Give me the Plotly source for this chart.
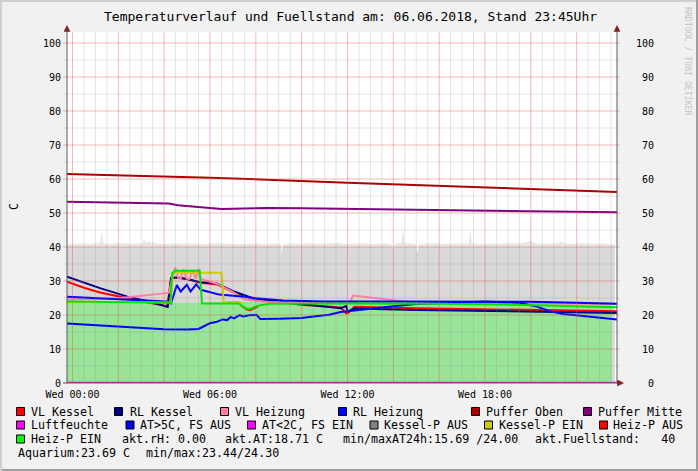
import numpy as np
import pandas as pd
import plotly.graph_objects as go

# ---------------- data ----------------
TITLE = "Temperaturverlauf und Fuellstand am: 06.06.2018, Stand 23:45Uhr"
BASE = pd.Timestamp("2018-06-06 00:00")
X_START = "2018-06-05 23:45:36"
X_END = "2018-06-06 23:45:36"

TICK_H = [0, 6, 12, 18]
TICK_LABELS = ["Wed 00:00", "Wed 06:00", "Wed 12:00", "Wed 18:00"]
Y_TICKS = [0, 10, 20, 30, 40, 50, 60, 70, 80, 90, 100]

# Fuellstand (noisy level, grey area)
FILL_H = [-0.24, 0.1, 0.4, 0.7, 1.0, 1.2, 1.29, 1.36, 1.6, 1.9, 2.2, 2.5, 2.8, 3.05, 3.12, 3.2,
          3.35, 3.42, 3.5, 3.58, 3.7, 4.0, 4.4, 4.8, 5.2, 5.6, 6.0, 6.4, 6.8, 7.2, 7.6, 8.0,
          8.4, 8.8, 9.08, 9.13, 9.18, 9.5, 9.9, 10.3, 10.7, 11.1, 11.5, 11.9, 12.3, 12.7, 13.1,
          13.5, 13.9, 14.02, 14.08, 14.2, 14.36, 14.42, 14.48, 14.7, 15.0, 15.06, 15.12, 15.4,
          15.8, 16.2, 16.6, 17.0, 17.3, 17.36, 17.42, 17.7, 18.1, 18.5, 18.9, 19.3, 19.7, 20.0,
          20.2, 20.5, 20.9, 21.2, 21.3, 21.5, 21.9, 22.3, 22.7, 23.1, 23.5, 23.67]
FILL_V = [41.0, 40.8, 41.1, 40.9, 41.0, 41.2, 44.5, 41.1, 40.9, 41.0, 41.2, 40.9, 41.0, 41.1, 42.7, 41.2,
          41.6, 41.0, 41.7, 41.0, 41.1, 40.8, 41.0, 40.9, 41.1, 40.8, 41.0, 41.1, 40.9, 40.8, 40.9, 41.0,
          40.8, 41.0, 40.7, 38.1, 40.8, 41.0, 40.9, 41.1, 40.9, 41.0, 41.2, 40.9, 41.0, 41.1, 40.8,
          41.0, 40.9, 39.5, 40.9, 41.1, 41.3, 45.5, 41.2, 41.0, 40.8, 38.2, 40.8, 41.0,
          41.1, 40.9, 41.0, 41.2, 41.1, 45.5, 41.2, 40.9, 41.0, 40.8, 41.1, 41.0, 41.2, 41.8,
          41.1, 40.9, 41.0, 41.1, 41.6, 41.0, 40.9, 41.1, 40.9, 41.0, 40.8, 40.9]
FILL_CAP = 40

# Aquarium (light green area)
AQ_H = [-0.24, 2, 4, 6, 8, 10, 12, 14, 16, 18, 20, 22, 23.54]
AQ_V = [23.7, 23.6, 23.5, 23.6, 23.9, 24.1, 24.3, 24.2, 24.1, 24.0, 23.9, 23.8, 23.7]

# Puffer Oben / Mitte
PO_H = [-0.24, 6, 12, 18, 23.76]
PO_V = [61.5, 60.4, 58.9, 57.5, 56.2]
PM_H = [-0.24, 2, 4.2, 4.6, 5.5, 6.5, 7.5, 8.5, 10, 12, 15, 18, 21, 23.76]
PM_V = [53.3, 53.1, 52.8, 52.3, 51.8, 51.2, 51.3, 51.5, 51.4, 51.2, 51.0, 50.7, 50.5, 50.2]

# VL Kessel
VLK_H = [-0.24, 0.5, 1.2, 2.4, 3.4, 4.15, 4.3, 4.5, 5.0, 5.6, 6.3, 7.05, 7.5, 7.9, 8.8, 10.0,
         11.7, 11.95, 12.05, 12.3, 15.0, 18.0, 21.0, 23.76]
VLK_V = [29.8, 28.0, 26.6, 24.8, 23.5, 22.6, 30.8, 31.0, 30.6, 29.5, 29.0, 26.6, 25.5, 24.7, 24.0, 23.0,
         22.2, 20.5, 20.7, 22.4, 22.0, 21.7, 21.4, 21.1]
# RL Kessel
RLK_H = [-0.24, 0.5, 1.2, 2.4, 3.4, 4.15, 4.3, 4.6, 5.0, 5.6, 6.3, 7.05, 7.9, 8.8, 10.0, 11.7,
         11.95, 12.0, 12.3, 15.0, 18.0, 21.0, 23.76]
RLK_V = [31.3, 29.5, 27.9, 25.4, 23.9, 22.4, 30.9, 31.0, 30.6, 29.6, 29.3, 26.9, 24.9, 24.3, 23.2, 22.0,
         22.6, 21.0, 21.9, 21.5, 21.2, 20.9, 20.6]
# VL Heizung
VLH_H = [-0.24, 1.0, 2.0, 3.0, 3.9, 4.2, 4.35, 4.48, 4.62, 4.72, 4.84, 4.98, 5.1, 5.25, 5.38, 5.5,
         5.6, 6.3, 7.05, 7.5, 8.5, 12.1, 12.25, 13.5, 14.6, 16.0, 20.0, 23.76]
VLH_V = [24.6, 24.6, 24.9, 25.6, 26.4, 26.5, 30.5, 34.0, 30.8, 30.6, 33.4, 30.7, 30.6, 33.2, 30.6, 33.5,
         30.6, 29.2, 26.6, 24.6, 23.8, 23.6, 25.7, 24.8, 23.9, 23.7, 23.5, 23.2]
# RL Heizung
RLH_H = [-0.24, 1.0, 2.0, 3.0, 4.1, 4.3, 4.45, 4.55, 4.72, 4.99, 5.15, 5.4, 5.6, 6.0, 6.4, 7.5,
         8.0, 9.2, 11.0, 14.0, 17.0, 20.0, 22.0, 23.76]
RLH_V = [25.4, 25.0, 24.7, 24.4, 24.0, 23.4, 26.5, 28.8, 26.9, 28.9, 26.9, 29.0, 27.4, 26.8, 26.0, 25.4,
         24.9, 24.3, 24.0, 24.0, 24.0, 23.9, 23.6, 23.3]
# Luftfeuchte
RH_H = [-0.24, 23.76]
RH_V = [0.0, 0.0]
# Aussentemperatur (AT>5C, FS AUS)
AT_H = [-0.24, 1.0, 2.0, 3.0, 4.0, 5.0, 5.5, 5.65, 6.0, 6.3, 6.55, 6.75, 6.9, 7.05, 7.3, 7.45,
        7.7, 8.04, 8.2, 9.0, 10.0, 10.6, 11.2, 11.7, 12.5, 13.5, 14.0, 15.0, 16.5, 18.0, 19.5,
        20.3, 20.8, 21.4, 22.3, 23.0, 23.76]
AT_V = [17.5, 17.0, 16.6, 16.2, 15.8, 15.7, 15.9, 16.4, 17.6, 18.0, 18.7, 18.5, 19.4, 19.0, 20.0, 19.6,
        19.9, 20.0, 18.8, 18.9, 19.1, 19.6, 20.1, 20.9, 21.4, 22.2, 22.6, 23.2, 23.6, 24.0, 23.6,
        22.4, 21.2, 20.3, 19.7, 19.3, 18.7]
# Kessel-P EIN
KPE_H = [-0.24, 4.3, 4.36, 6.5, 6.6, 7.2, 7.4]
KPE_V = [23.9, 23.7, 32.4, 32.4, 23.9, 23.8, 23.5]
# Heiz-P AUS
HPA_H = [7.35, 7.6, 7.75, 7.95, 8.1]
HPA_V = [22.8, 21.7, 21.4, 22.0, 22.6]
# Heiz-P EIN
HPE_H = [-0.24, 2.0, 4.28, 4.34, 4.45, 5.55, 5.65, 7.25, 7.55, 7.75, 7.95, 8.2, 8.6, 12.0, 16.0, 20.2, 23.76]
HPE_V = [24.0, 23.8, 23.6, 32.0, 33.0, 33.0, 23.4, 23.4, 22.0, 21.8, 22.4, 22.9, 23.3, 23.4, 23.3, 22.9, 22.3]

LEGEND_ROWS = [
    [("VL Kessel", "#ff0000", 16, 30), ("RL Kessel", "#000080", 114, 128.5),
     ("VL Heizung", "#ff80a0", 220, 233.5), ("RL Heizung", "#0000ff", 338, 352),
     ("Puffer Oben", "#aa0000", 471, 485), ("Puffer Mitte", "#800080", 583, 596.5)],
    [("Luftfeuchte", "#ff00ff", 16, 30), ("AT>5C, FS AUS", "#0000ff", 125.5, 138.5),
     ("AT<2C, FS EIN", "#ff00ff", 247, 260.5), ("Kessel-P AUS", "#808080", 369.5, 383),
     ("Kessel-P EIN", "#cccc00", 484, 497.5), ("Heiz-P AUS", "#ff0000", 599, 612)],
    [("Heiz-P EIN", "#00ff00", 16, 30)],
]
STAT_TEXTS = [  # (text, x, row)
    ("akt.rH: 0.00", 120.5, 2), ("akt.AT:18.71 C", 224, 2),
    ("min/maxAT24h:15.69 /24.00", 342, 2), ("akt.Fuellstand:   40", 534, 2),
    ("Aquarium:23.69 C", 16.5, 3), ("min/max:23.44/24.30", 144.5, 3),
]
ROW_Y = [411.5, 425, 439, 453]

# ---------------- helpers ----------------
W, H = 698, 471
L, R, T, B = 67, 617, 32, 383
YMAX = (B - T) / 3.4
FONT = "DejaVu Sans Mono"


def t(hours):
    return BASE + pd.to_timedelta(np.asarray(hours, dtype=float), unit="h")


def px(x):
    return (x - L) / (R - L)


def py(y):
    return (B - y) / (B - T)


fig = go.Figure()

# areas
fig.add_trace(go.Scatter(x=t(FILL_H), y=FILL_V, mode="lines", line=dict(width=0),
                         fill="tozeroy", fillcolor="#e6e6e6", hoverinfo="skip"))
fig.add_trace(go.Scatter(x=t(FILL_H), y=np.minimum(np.array(FILL_V), FILL_CAP), mode="lines",
                         line=dict(width=0), fill="tozeroy", fillcolor="#d9d9d9", hoverinfo="skip"))
fig.add_trace(go.Scatter(x=t(AQ_H), y=AQ_V, mode="lines", line=dict(width=0),
                         fill="tozeroy", fillcolor="#98e498", hoverinfo="skip"))


def line(h, v, color, width=2, yaxis="y"):
    fig.add_trace(go.Scatter(x=t(h), y=v, mode="lines", yaxis=yaxis,
                             line=dict(color=color, width=width), hoverinfo="skip"))


line(VLK_H, VLK_V, "#ff0000")
line(RLK_H, RLK_V, "#000080")
line(VLH_H, VLH_V, "#ff80a0")
line(RLH_H, RLH_V, "#0000ff")
line(PO_H, PO_V, "#aa0000")
line(PM_H, PM_V, "#800080")
line(RH_H, RH_V, "#ff00ff", 2.5, "y2")
line(AT_H, AT_V, "#0000ff")
line(KPE_H, KPE_V, "#cccc00")
line(HPA_H, HPA_V, "#ff0000")
line(HPE_H, HPE_V, "#00e600")

shapes = []
# frame
shapes.append(dict(type="rect", xref="paper", yref="paper", x0=px(0), x1=px(W), y0=py(0), y1=py(2),
                   fillcolor="#cfcfcf", line=dict(width=0), layer="below"))
shapes.append(dict(type="rect", xref="paper", yref="paper", x0=px(0), x1=px(2), y0=py(0), y1=py(H),
                   fillcolor="#cfcfcf", line=dict(width=0), layer="below"))
shapes.append(dict(type="rect", xref="paper", yref="paper", x0=px(W - 2), x1=px(W), y0=py(0), y1=py(H),
                   fillcolor="#9e9e9e", line=dict(width=0), layer="below"))
shapes.append(dict(type="rect", xref="paper", yref="paper", x0=px(2), x1=px(W), y0=py(H - 2), y1=py(H),
                   fillcolor="#9e9e9e", line=dict(width=0), layer="below"))

# grid (drawn on top, semi-transparent like rrdtool)
MINOR = "rgba(143,143,143,0.24)"
MAJOR = "rgba(222,79,79,0.40)"
for k in range(48):
    hh = k * 0.5
    col = MAJOR if k % 4 == 0 else MINOR
    shapes.append(dict(type="line", xref="x", yref="paper", x0=t([hh])[0], x1=t([hh])[0],
                       y0=0, y1=1, line=dict(color=col, width=1), layer="above"))
for v in range(0, 101, 5):
    col = MAJOR if v % 10 == 0 else MINOR
    shapes.append(dict(type="line", xref="paper", yref="y", x0=px(L - 4), x1=px(R + 3),
                       y0=v, y1=v, line=dict(color=col, width=1), layer="above"))

AX = "#5a5a5a"
ARROW = "#801f1f"
shapes.append(dict(type="line", xref="paper", yref="paper", x0=0, x1=0, y0=0, y1=py(29),
                   line=dict(color=AX, width=1), layer="above"))
shapes.append(dict(type="line", xref="paper", yref="paper", x0=1, x1=1, y0=0, y1=py(29),
                   line=dict(color=AX, width=1), layer="above"))
shapes.append(dict(type="line", xref="paper", yref="paper", x0=px(L - 4), x1=px(R + 2), y0=0, y1=0,
                   line=dict(color=AX, width=1), layer="above"))


def tri(points):
    d = "M " + " L ".join(f"{px(a)},{py(b)}" for a, b in points) + " Z"
    return dict(type="path", xref="paper", yref="paper", path=d, fillcolor=ARROW,
                line=dict(color=ARROW, width=0.5), layer="above")


shapes.append(tri([(L, 25.5), (L - 3, 31.5), (L + 3, 31.5)]))
shapes.append(tri([(R, 25.5), (R - 3, 31.5), (R + 3, 31.5)]))
shapes.append(tri([(623.5, B), (617.5, B - 3), (617.5, B + 3)]))

annotations = []
# legend
for r, row in enumerate(LEGEND_ROWS):
    yc = ROW_Y[r]
    for name, color, bx, tx in row:
        shapes.append(dict(type="rect", xref="paper", yref="paper", x0=px(bx + 0.5), x1=px(bx + 8.5),
                           y0=py(yc - 4), y1=py(yc + 4), fillcolor=color,
                           line=dict(color="#000000", width=1), layer="above"))
        annotations.append(dict(text=name, x=px(tx), y=py(yc), xref="paper", yref="paper",
                                xanchor="left", yanchor="middle", showarrow=False, borderpad=0,
                                font=dict(family=FONT, size=11.65, color="#000000")))
for text, tx, r in STAT_TEXTS:
    annotations.append(dict(text=text.replace(" ", "\u00a0"), x=px(tx), y=py(ROW_Y[r]),
                            xref="paper", yref="paper", xanchor="left", yanchor="middle",
                            showarrow=False, borderpad=0,
                            font=dict(family=FONT, size=11.65, color="#000000")))

annotations.append(dict(text=TITLE, x=px(350), y=py(17), xref="paper", yref="paper",
                        xanchor="center", yanchor="middle", showarrow=False, borderpad=0,
                        font=dict(family=FONT, size=13, color="#000000")))
annotations.append(dict(text="C", x=px(14), y=py(207), xref="paper", yref="paper", textangle=-90,
                        xanchor="center", yanchor="middle", showarrow=False, borderpad=0,
                        font=dict(family=FONT, size=11.65, color="#000000")))
annotations.append(dict(text="RRDTOOL / TOBI OETIKER", x=px(688), y=py(61), xref="paper",
                        yref="paper", textangle=90, xanchor="center", yanchor="middle",
                        showarrow=False, borderpad=0,
                        font=dict(family=FONT, size=8.2, color="#c4c4c4")))

fig.update_layout(
    width=W, height=H,
    margin=dict(l=L, r=W - R, t=T, b=H - B, pad=0),
    paper_bgcolor="#f1f1f1", plot_bgcolor="#ffffff",
    showlegend=False,
    xaxis=dict(type="date", range=[X_START, X_END], tickvals=t(TICK_H), ticktext=TICK_LABELS,
               showgrid=False, zeroline=False, showline=False, ticks="", automargin=False,
               ticklabelstandoff=4,
               tickfont=dict(family=FONT, size=10, color="#000000")),
    yaxis=dict(range=[0, YMAX], tickvals=Y_TICKS, ticktext=[str(v) for v in Y_TICKS],
               showgrid=False, zeroline=False, showline=False, ticks="", automargin=False,
               ticklabelstandoff=5,
               tickfont=dict(family=FONT, size=10, color="#000000")),
    yaxis2=dict(range=[0, YMAX], overlaying="y", side="right", tickvals=Y_TICKS,
                ticktext=[str(v).rjust(3).replace(" ", "\u00a0") for v in Y_TICKS],
                showgrid=False, zeroline=False, showline=False, ticks="", automargin=False,
                ticklabelstandoff=18,
                tickfont=dict(family=FONT, size=10, color="#000000")),
    shapes=shapes,
    annotations=annotations,
)

fig.write_html("out.html", config={"displayModeBar": False},
               post_script="document.body.style.margin='0';")
